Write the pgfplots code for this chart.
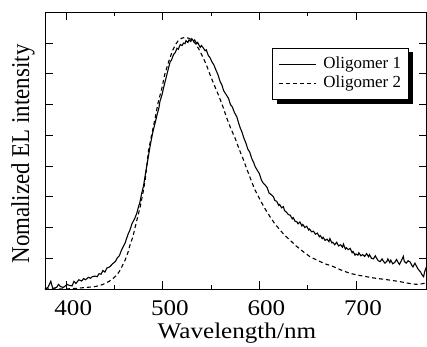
\documentclass[border=0pt]{standalone}
\usepackage{graphicx}
\usepackage{pgfplots}
\pgfplotsset{compat=1.18}
\usepackage{fontspec}
\setmainfont{Liberation Serif}[FakeStretch=1.12]
\newfontfamily\plainfont{Liberation Serif}
\usetikzlibrary{backgrounds}
\pgfplotstableread{
x y
378 0.0
381 0.05
384 0.25
386 0.02
390 0.05
392 0.15
394 0.08
397 0.05
399 0.1
401 0.15
403 0.12
406 0.1
408 0.25
410 0.18
413 0.3
416 0.26
418 0.34
420 0.3
423 0.38
425 0.35
427 0.4
430 0.42
432 0.4
434 0.5
436 0.48
438 0.6
440 0.55
442 0.68
445 0.72
448 0.82
451 0.9
453 1.02
455 1.08
457 1.25
459 1.38
461 1.5
462 1.6
464 1.78
466 1.92
468 2.12
469 2.18
471 2.3
473 2.46
475 2.7
476 2.78
478 3.1
480 3.35
481 3.55
482 3.75
485 4.3
487 4.68
489 5.0
490 5.15
492 5.4
494 5.66
496 5.9
497 6.1
499 6.3
500.7 6.53
502 6.7
504 6.95
506 7.2
507.6 7.39
509 7.45
511 7.62
513 7.7
514.6 7.83
516 7.8
518 7.95
520 7.92
521.4 8.0
523 7.98
524 8.08
526 8.02
527 8.1
529 8.05
530 8.14
532 8.06
533 8.1
535 7.98
536 8.02
538.7 7.86
540 7.92
541 7.88
543.8 7.75
545 7.78
547 7.6
549 7.52
550.8 7.39
553 7.28
555 7.12
557 6.98
559.4 6.74
561 6.65
563 6.45
566 6.3
568 6.2
570 6.0
572 5.92
574 5.75
576.6 5.6
578 5.45
580 5.25
582 5.1
584 4.9
586 4.75
588 4.55
590 4.45
592 4.25
594 4.12
595.6 3.98
598 3.85
600 3.75
602 3.55
604 3.44
606 3.38
608 3.3
610 3.12
611 3.1
613 3.05
614.5 3.0
616 2.88
618 2.85
620 2.72
621 2.75
623 2.64
624.8 2.68
626 2.55
628 2.5
630 2.42
632 2.4
634 2.28
635 2.32
637 2.2
638.7 2.19
640 2.12
642 2.18
644 2.05
645 2.1
647 2.0
649 2.04
651 1.92
652 1.95
654 1.86
656 1.88
658 1.78
660 1.82
662 1.7
663 1.74
665 1.64
666 1.68
668 1.58
670 1.62
672 1.54
673 1.64
675 1.5
676 1.52
678 1.44
680 1.52
682 1.4
684 1.44
686 1.36
687 1.46
689 1.3
690 1.34
692 1.28
694 1.32
696 1.18
697 1.22
699 1.1
700 1.14
702 1.1
703 1.18
705 1.08
707 1.12
709 1.06
711 1.15
713 1.05
714 1.12
716 1.0
718 0.98
720 1.08
721 1.02
723 0.92
725 0.89
727 0.98
728 0.92
730 0.84
732 0.9
733 0.98
735 0.86
736 0.94
738 0.82
740 0.86
742 0.96
744 0.84
745 0.8
747 0.92
749 1.06
750 0.9
752 0.84
754 0.92
756 0.88
758 0.76
759 0.72
761 0.84
762 0.78
764 0.66
765 0.62
767 0.55
768 0.48
770 0.4
771 0.55
773 0.73
}\oligoA
\pgfplotstableread{
x y
378 0.0
390 0.0
399 0.0
410 0.02
420 0.05
428 0.07
433 0.1
438 0.15
444 0.24
448 0.33
452.5 0.46
456 0.62
458 0.75
461 0.94
464 1.2
466 1.43
469 1.7
471.5 2.03
474 2.35
476.6 2.68
480 3.22
482 3.6
485 4.47
488 4.95
492 5.55
495 6.05
499 6.53
502 6.98
506 7.39
510 7.75
513 7.94
516 8.08
519.7 8.16
523 8.18
526.6 8.16
530 8.1
533.5 7.99
537 7.82
540.4 7.61
545 7.3
549 6.96
553 6.65
557.6 6.31
562 5.95
566.3 5.55
570 5.25
574.9 4.9
579 4.55
583.5 4.2
587 3.9
590.4 3.62
595 3.25
600.7 2.9
606 2.6
611 2.35
616 2.12
621.4 1.92
626 1.75
631.7 1.59
638 1.4
645.5 1.21
652 1.06
659.4 0.94
668 0.82
676.5 0.73
685 0.61
693.8 0.51
702 0.45
711 0.4
720 0.35
728 0.32
737 0.28
745.5 0.24
752 0.2
759 0.16
765 0.15
770 0.18
773 0.2
}\oligoB
\begin{document}
\begin{tikzpicture}
\begin{axis}[
  name=ax, at={(0,0)}, anchor=south west,
  scale only axis, width=381.5bp, height=276.7bp,
  xmin=378, xmax=773, ymin=0, ymax=9,
  xtick={400,500,600,700}, minor x tick num=1,
  ytick={1,2,3,4,5,6,7,8}, yticklabels={},
  xtick pos=both, ytick pos=both,
  tick align=inside,
  major tick length=8bp, minor tick length=4bp,
  every tick/.style={black, line width=0.8bp},
  axis line style={line width=0.9bp},
  /pgf/number format/assume math mode=true,
  xticklabel style={font=\fontsize{22.5}{24}\selectfont, anchor=base, yshift=-26.7bp, xshift=7bp},
  xlabel={Wavelength/nm},
  xlabel style={font=\fontsize{22.5}{24}\selectfont, at={(axis description cs:0.503,-0.159)}, anchor=center},
  ylabel={\scalebox{1}[1.12]{\plainfont\fontsize{23}{25}\selectfont Nomalized EL intensity}},
  ylabel style={at={(axis description cs:-0.0577,0.488)}, anchor=center},
  legend style={name=leg, at={(0.954,0.871)}, anchor=north east, draw=black, line width=0.8bp,
    fill=white, font=\plainfont\fontsize{17}{19}\selectfont,
    inner xsep=5.5bp, inner ysep=6.6bp, row sep=0bp, column sep=5bp,
    nodes={inner xsep=2bp, inner ysep=1bp, text height=12.5bp, text depth=4.5bp}},
  legend cell align=left,
  legend image code/.code={\draw[#1] (0bp,0bp) -- (37bp,0bp);},
]
\addplot[black, line width=1.1bp] table[x=x,y=y] {\oligoA};
\addlegendentry{Oligomer 1}
\addplot[black, line width=1.1bp, dash pattern=on 4bp off 3bp] table[x=x,y=y] {\oligoB};
\addlegendentry{Oligomer 2}
\end{axis}
\begin{scope}[on background layer]
\fill[black] ([xshift=4.5bp,yshift=-4.5bp]leg.south west) rectangle ([xshift=4.5bp,yshift=-4.5bp]leg.north east);
\end{scope}
\pgfresetboundingbox
\path (-45bp,-58bp) rectangle (382bp,289bp);
\end{tikzpicture}
\end{document}
